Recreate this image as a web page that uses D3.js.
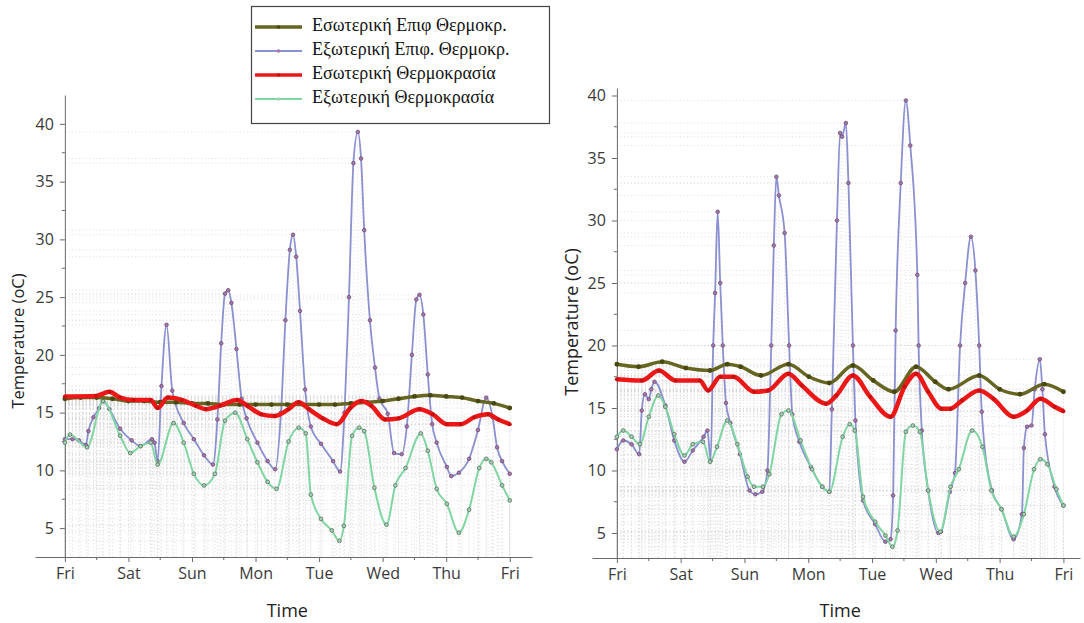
<!DOCTYPE html>
<html>
<head>
<meta charset="utf-8">
<script src="https://cdn.jsdelivr.net/npm/d3@7"></script>
<style>
  body { margin: 0; background: #fff; }
  svg { display: block; }
  .tick text { font-family: "Open Sans", sans-serif; font-size: 16px; fill: #3a3a3a; }
  .axis path, .axis line { stroke: #6a6a6a; }
</style>
</head>
<body>
<div id="chart"></div>
<script>
// day labels for the x axis (one tick per day, 0..7)
var dayLabels = ['Fri', 'Sat', 'Sun', 'Mon', 'Tue', 'Wed', 'Thu', 'Fri'];
var yTickValues = [5, 10, 15, 20, 25, 30, 35, 40];

var legendLabels = [
  'Εσωτερική Επιφ Θερμοκρ.',
  'Εξωτερική Επιφ. Θερμοκρ.',
  'Εσωτερική Θερμοκρασία',
  'Εξωτερική Θερμοκρασία'
];

// ---- left chart: [day, temperature] ----
var leftSurfIn = [[0,16.2],[0.25,16.3],[0.5,16.3],[0.75,16.2],[1,16.0],[1.25,16.0],[1.5,15.9],[1.75,15.9],
  [2,15.8],[2.25,15.8],[2.5,15.7],[2.75,15.7],[3,15.7],[3.25,15.7],[3.5,15.7],[3.75,15.7],[4,15.7],
  [4.25,15.7],[4.5,15.8],[4.75,15.9],[5,16.0],[5.25,16.2],[5.5,16.4],[5.75,16.5],[6,16.4],[6.25,16.3],
  [6.5,16.0],[6.75,15.8],[7,15.4]];

var leftSurfOut = [[0,12.7],[0.12,12.7],[0.22,12.6],[0.33,12.2],[0.37,13.4],[0.45,14.6],[0.54,15.4],[0.60,16.0],
  [0.70,15.3],[0.87,13.6],[1.05,12.6],[1.19,12.1],[1.37,12.7],[1.41,12.4],[1.46,10.8],[1.52,17.3],[1.60,22.6],
  [1.69,16.9],[1.87,14.1],[2.03,12.7],[2.19,11.3],[2.33,10.5],[2.40,14.4],[2.46,21],[2.52,25.3],[2.57,25.6],
  [2.62,24.5],[2.70,20.5],[2.78,16.2],[2.86,14.5],[3.03,12.4],[3.19,10.8],[3.31,10.1],[3.40,15.0],[3.47,23.0],
  [3.54,29.1],[3.59,30.4],[3.64,28.5],[3.70,23.8],[3.78,17.0],[3.87,13.8],[4.03,12.3],[4.22,10.8],[4.33,9.9],
  [4.40,15.0],[4.47,25.0],[4.54,36.6],[4.61,39.3],[4.66,37.0],[4.71,30.8],[4.80,23.0],[4.88,18.9],[4.95,16.2],
  [5.08,14.9],[5.18,11.5],[5.30,11.4],[5.38,13.8],[5.46,20.0],[5.53,24.8],[5.58,25.2],[5.64,23.5],[5.71,18.3],
  [5.78,14.0],[5.85,12.4],[6.01,10.3],[6.08,9.5],[6.20,9.8],[6.36,11.0],[6.50,13.5],[6.63,16.3],[6.73,14.6],
  [6.80,12.0],[6.88,10.8],[7,9.7]];

var leftAirIn = [[0,16.4],[0.49,16.45],[0.70,16.8],[0.87,16.3],[1.08,16.1],[1.35,16.1],[1.46,15.4],[1.62,16.3],
  [1.84,16.1],[2.06,15.6],[2.22,15.3],[2.44,15.6],[2.71,16.1],[2.87,15.6],[3.09,14.85],[3.30,14.7],[3.52,15.3],
  [3.68,15.9],[3.84,15.3],[4.06,14.5],[4.28,14.0],[4.49,15.4],[4.66,16.0],[4.82,15.6],[5.04,14.4],[5.25,14.5],
  [5.58,15.3],[5.79,14.85],[6.01,14.0],[6.23,14.0],[6.44,14.6],[6.66,14.85],[6.82,14.4],[7,14.0]];

var leftAirOut = [[0,12.4],[0.08,13.1],[0.35,12.0],[0.60,16.0],[0.87,13.0],[1.03,11.5],[1.19,12.1],[1.35,12.4],
  [1.46,10.5],[1.71,14.1],[1.87,12.4],[2.03,9.7],[2.19,8.7],[2.36,9.7],[2.52,14.3],[2.68,15.0],[2.87,12.7],
  [3.03,10.7],[3.19,9.0],[3.33,8.4],[3.52,12.5],[3.68,13.7],[3.79,13.2],[3.87,7.9],[4.03,5.8],[4.20,4.8],
  [4.32,3.9],[4.39,5.2],[4.52,13.0],[4.63,13.7],[4.71,13.4],[4.87,8.5],[5.06,5.3],[5.20,8.7],[5.36,10.2],
  [5.60,13.2],[5.71,11.7],[5.85,8.4],[6.01,7.1],[6.20,4.6],[6.36,6.6],[6.52,10.2],[6.63,11.0],[6.71,10.7],
  [6.88,8.7],[7,7.4]];

// ---- right chart: [day, temperature] ----
var rightSurfIn = [[0,18.5],[0.34,18.3],[0.71,18.7],[1.08,18.2],[1.46,18.0],[1.73,18.5],[1.94,18.3],[2.26,17.6],
  [2.69,18.5],[3.01,17.5],[3.33,17.0],[3.70,18.4],[4.02,17.2],[4.35,16.3],[4.69,18.3],[4.99,17.1],[5.20,16.5],
  [5.68,17.6],[6.00,16.5],[6.32,16.1],[6.70,16.9],[7,16.3]];

var rightSurfOut = [[0,11.7],[0.10,12.4],[0.23,12.1],[0.35,11.3],[0.39,14.8],[0.44,16.1],[0.50,15.7],[0.54,16.5],
  [0.59,17.1],[0.76,15.2],[0.90,12.4],[1.06,10.7],[1.19,11.6],[1.36,12.7],[1.42,13.2],[1.47,10.8],[1.51,20],
  [1.54,24.2],[1.58,30.7],[1.62,25],[1.66,20],[1.71,15.4],[1.78,13.8],[1.93,11.3],[2.08,8.4],[2.17,8.1],
  [2.28,8.3],[2.36,10],[2.42,20],[2.46,28],[2.50,33.5],[2.54,32.0],[2.63,29.0],[2.70,20],[2.75,14.5],
  [2.86,12.3],[3.04,10.3],[3.22,8.7],[3.33,8.3],[3.37,14.9],[3.45,30],[3.50,37.0],[3.53,36.7],[3.59,37.8],
  [3.63,33],[3.70,20.0],[3.74,14],[3.86,7.6],[4.05,5.7],[4.21,4.3],[4.29,4.5],[4.33,8],[4.37,21.2],[4.45,33],
  [4.53,39.6],[4.60,36],[4.71,25.65],[4.73,20],[4.78,13.2],[4.88,8.4],[5.04,5.0],[5.08,5.1],[5.22,8.3],
  [5.30,9.8],[5.38,20],[5.46,25],[5.55,28.7],[5.62,26],[5.68,20],[5.72,14.7],[5.88,8.4],[6.03,6.9],[6.22,4.5],
  [6.35,6.5],[6.38,11.8],[6.43,13.5],[6.50,13.6],[6.55,16.5],[6.63,18.9],[6.67,16.5],[6.71,12.9],[6.86,8.7],[7,7.2]];

var rightAirIn = [[0,17.3],[0.39,17.2],[0.66,18.0],[0.92,17.2],[1.30,17.2],[1.43,16.4],[1.62,17.5],[1.83,17.5],
  [2.15,16.3],[2.37,16.4],[2.69,17.75],[2.90,16.8],[3.28,15.35],[3.44,16.0],[3.70,17.6],[3.97,15.9],[4.29,14.3],
  [4.51,16.7],[4.69,17.75],[4.88,16.3],[5.09,14.95],[5.23,14.95],[5.41,15.6],[5.68,16.4],[5.90,15.75],
  [6.22,14.3],[6.43,14.8],[6.64,15.75],[6.86,15.1],[7,14.75]];

var rightAirOut = [[0,12.7],[0.10,13.2],[0.23,12.7],[0.36,12.1],[0.50,14.3],[0.65,16.0],[0.76,15.1],[0.90,12.9],
  [1.06,11.2],[1.19,12.1],[1.35,12.3],[1.46,10.7],[1.57,11.9],[1.73,14.0],[1.89,12.1],[2.05,9.5],[2.15,8.7],
  [2.29,8.7],[2.39,9.7],[2.58,14.5],[2.69,14.8],[2.88,12.4],[3.06,10.1],[3.22,8.7],[3.33,8.3],[3.54,12.7],
  [3.65,13.7],[3.73,13.2],[3.86,7.9],[4.05,5.9],[4.21,4.8],[4.32,3.9],[4.40,5.2],[4.53,13.1],[4.64,13.6],
  [4.75,13.1],[4.88,8.4],[5.07,5.1],[5.23,8.7],[5.36,10.1],[5.57,13.2],[5.73,11.9],[5.87,8.4],[6.03,6.9],
  [6.22,4.7],[6.38,6.5],[6.54,10.1],[6.64,10.9],[6.75,10.5],[6.89,8.5],[7,7.2]];

// series look (same order as legendLabels)
var seriesStyle = [
  { color: '#666622', width: 3.5, dot: '#48480f', dotStroke: 'none', r: 2.4 },
  { color: '#8b90d0', width: 1.8, dot: '#a878a8', dotStroke: '#6a4a7a', r: 1.8 },
  { color: '#ec1818', width: 4.5, dot: '#c81010', dotStroke: 'none', r: 2.0 },
  { color: '#80d6a2', width: 2,   dot: '#a6d0b4', dotStroke: '#55705e', r: 1.9 }
];
// draw order: outside surface, outside air, inside surface, inside air
var drawOrder = [1, 3, 0, 2];

var svg = d3.select('#chart').append('svg')
  .attr('width', 1084)
  .attr('height', 623);

function drawChart(cfg, seriesList) {
  var x = d3.scaleLinear().domain(cfg.xDomain).range(cfg.xRange);
  var y = d3.scaleLinear().domain(cfg.yDomain).range(cfg.yRange);
  var g = svg.append('g');
  var x0 = x(0);
  var yBottom = cfg.yRange[0];

  // drop lines from every data point to both axes
  var drops = g.append('g')
    .attr('stroke', '#c8c8c8')
    .attr('stroke-width', 0.8)
    .attr('stroke-dasharray', '1,2.5')
    .attr('opacity', 0.7);
  seriesList.forEach(function (s) {
    drops.selectAll(null).data(s).enter().append('line')
      .attr('x1', x0).attr('x2', d => x(d[0]))
      .attr('y1', d => y(d[1])).attr('y2', d => y(d[1]));
    drops.selectAll(null).data(s).enter().append('line')
      .attr('x1', d => x(d[0])).attr('x2', d => x(d[0]))
      .attr('y1', d => y(d[1])).attr('y2', yBottom);
  });

  // axes
  var xAxis = d3.axisBottom(x)
    .tickValues(d3.range(0, 8))
    .tickFormat(i => dayLabels[i])
    .tickSize(5).tickSizeOuter(0).tickPadding(6);
  g.append('g').attr('class', 'axis')
    .attr('transform', `translate(0, ${yBottom})`)
    .call(xAxis);

  var yAxis = d3.axisLeft(y)
    .tickValues(yTickValues)
    .tickSize(5).tickSizeOuter(0).tickPadding(6);
  g.append('g').attr('class', 'axis')
    .attr('transform', `translate(${x0}, 0)`)
    .call(yAxis);

  // minor ticks
  g.append('g').selectAll('line')
    .data(d3.range(0.5, 7, 1)).enter().append('line')
    .attr('x1', d => x(d)).attr('x2', d => x(d))
    .attr('y1', yBottom).attr('y2', yBottom + 3)
    .attr('stroke', '#6a6a6a');
  g.append('g').selectAll('line')
    .data(d3.range(7.5, 40, 5)).enter().append('line')
    .attr('x1', x0).attr('x2', x0 - 3)
    .attr('y1', d => y(d)).attr('y2', d => y(d))
    .attr('stroke', '#6a6a6a');

  // series lines and markers
  var line = d3.line()
    .x(d => x(d[0]))
    .y(d => y(d[1]))
    .curve(d3.curveMonotoneX);

  drawOrder.forEach(function (k) {
    var st = seriesStyle[k];
    g.append('path')
      .datum(seriesList[k])
      .attr('fill', 'none')
      .attr('stroke', st.color)
      .attr('stroke-width', st.width)
      .attr('stroke-linejoin', 'round')
      .attr('d', line);
    g.append('g').selectAll('circle')
      .data(seriesList[k]).enter().append('circle')
      .attr('cx', d => x(d[0]))
      .attr('cy', d => y(d[1]))
      .attr('r', st.r)
      .attr('fill', st.dot)
      .attr('stroke', st.dotStroke)
      .attr('stroke-width', 0.8);
  });

  // axis titles
  g.append('text')
    .attr('x', (x(0) + x(7)) / 2)
    .attr('y', 617)
    .attr('text-anchor', 'middle')
    .style('font-family', '"Open Sans", sans-serif')
    .style('font-size', '18px')
    .attr('fill', '#222')
    .text('Time');

  g.append('text')
    .attr('transform', `translate(${x0 - cfg.yTitleOffset}, ${cfg.yTitleCenter}) rotate(-90)`)
    .attr('text-anchor', 'middle')
    .attr('dominant-baseline', 'middle')
    .style('font-family', '"Open Sans", sans-serif')
    .style('font-size', cfg.yTitleSize + 'px')
    .attr('fill', '#222')
    .text('Temperature (oC)');
}

drawChart({
  xDomain: [-0.47, 7.35], xRange: [35, 532],
  yDomain: [2.5, 42.5], yRange: [557, 95],
  yTitleOffset: 45, yTitleCenter: 341, yTitleSize: 16.5
}, [leftSurfIn, leftSurfOut, leftAirIn, leftAirOut]);

drawChart({
  xDomain: [-0.39, 7.26], xRange: [592, 1080],
  yDomain: [3, 40.6], yRange: [558, 88],
  yTitleOffset: 44, yTitleCenter: 322, yTitleSize: 18
}, [rightSurfIn, rightSurfOut, rightAirIn, rightAirOut]);

// legend
var legend = svg.append('g');
legend.append('rect')
  .attr('x', 251.5).attr('y', 6.5)
  .attr('width', 298).attr('height', 117)
  .attr('fill', '#fff')
  .attr('stroke', '#444')
  .attr('stroke-width', 1.2);

var rowY = d3.scalePoint().domain(d3.range(4)).range([27, 99]);
legendLabels.forEach(function (label, i) {
  var st = seriesStyle[i];
  var yy = rowY(i);
  legend.append('line')
    .attr('x1', 255).attr('x2', 302)
    .attr('y1', yy).attr('y2', yy)
    .attr('stroke', st.color)
    .attr('stroke-width', Math.min(st.width, 3.5));
  legend.append('circle')
    .attr('cx', 278.5).attr('cy', yy).attr('r', 1.8)
    .attr('fill', st.dot);
  legend.append('text')
    .attr('x', 312).attr('y', yy)
    .attr('dominant-baseline', 'middle')
    .style('font-family', '"Liberation Serif", "DejaVu Serif", serif')
    .style('font-size', '18px')
    .attr('fill', '#111')
    .text(label);
});
</script>
</body>
</html>
